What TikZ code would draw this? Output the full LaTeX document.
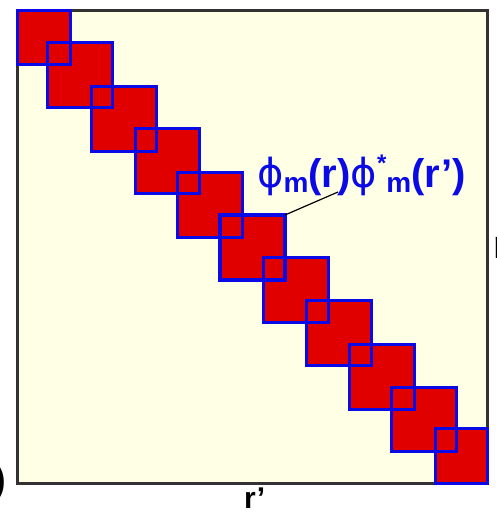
\documentclass[tikz,border=0pt]{standalone}
\usepackage{fontspec}
\setmainfont{Liberation Sans}
\newfontfamily\phifont{DejaVu Sans}
\definecolor{sqred}{RGB}{224,0,0}
\definecolor{sqblue}{RGB}{10,10,230}
\definecolor{bgyellow}{RGB}{255,255,230}
\definecolor{framegray}{RGB}{50,50,50}
\tikzset{
  sqfill/.style={fill=sqred, draw=none},
  sqline/.style={draw=sqblue, line width=3pt},
  sqhigh/.style={draw=sqblue, line width=4.5pt},
  frame/.style={fill=bgyellow, draw=framegray, line width=3pt},
  lbl/.style={inner sep=0pt, font=\bfseries\fontsize{30}{30}\selectfont},
}
\newcommand{\sqat}[5]{%
  \path[sqfill] (#2,#3) rectangle (#4,#5);
  \coordinate (#1sw) at (#2,#5);
  \coordinate (#1ne) at (#4,#3);
}
\begin{document}
\begin{tikzpicture}[x=1pt,y=-1pt]
\useasboundingbox (0,0) rectangle (497,515);
\clip (0,0) rectangle (497,515);
\path[frame] (17,10) rectangle (487,483);
\sqat{s1}{17}{10}{70}{64}
\sqat{s2}{47}{42}{112}{107}
\sqat{s3}{91}{86}{156}{151}
\sqat{s4}{135}{128}{199}{193}
\sqat{s5}{177}{172}{242}{237}
\sqat{s6}{220}{215}{285}{280}
\sqat{s7}{263}{257}{328}{322}
\sqat{s8}{306}{300}{371}{365}
\sqat{s9}{349}{344}{414}{409}
\sqat{s10}{391}{387}{456}{451}
\sqat{s11}{435}{428}{487}{483}
\foreach \s in {s1,s2,s3,s4,s5,s7,s8,s9,s10,s11}
  \draw[sqline] (\s sw) rectangle (\s ne);
\draw[sqhigh] (s6sw) rectangle (s6ne);
\node[lbl, font=\bfseries\fontsize{40}{40}\selectfont, text=sqblue, anchor=base west] (phi) at (257,187)
  {{\phifont\mdseries ϕ}\raisebox{-5pt}{\fontsize{28}{28}\selectfont m}(r){\phifont\mdseries ϕ}\raisebox{16pt}{\fontsize{24}{24}\selectfont *}\raisebox{-5pt}{\fontsize{28}{28}\selectfont m}(r’)};
\coordinate (lead) at (338,192);
\draw[black, line width=1.2pt] (s6ne) -- (lead);
\node[lbl, anchor=base west] (rp) at (244,508) {r’};
\node[lbl, font=\bfseries\fontsize{40}{40}\selectfont, anchor=base west] (rr) at (493,258) {r};
\node[lbl, font=\bfseries\fontsize{38}{38}\selectfont, anchor=base east] (bp) at (6,492) {)};
\end{tikzpicture}
\end{document}
